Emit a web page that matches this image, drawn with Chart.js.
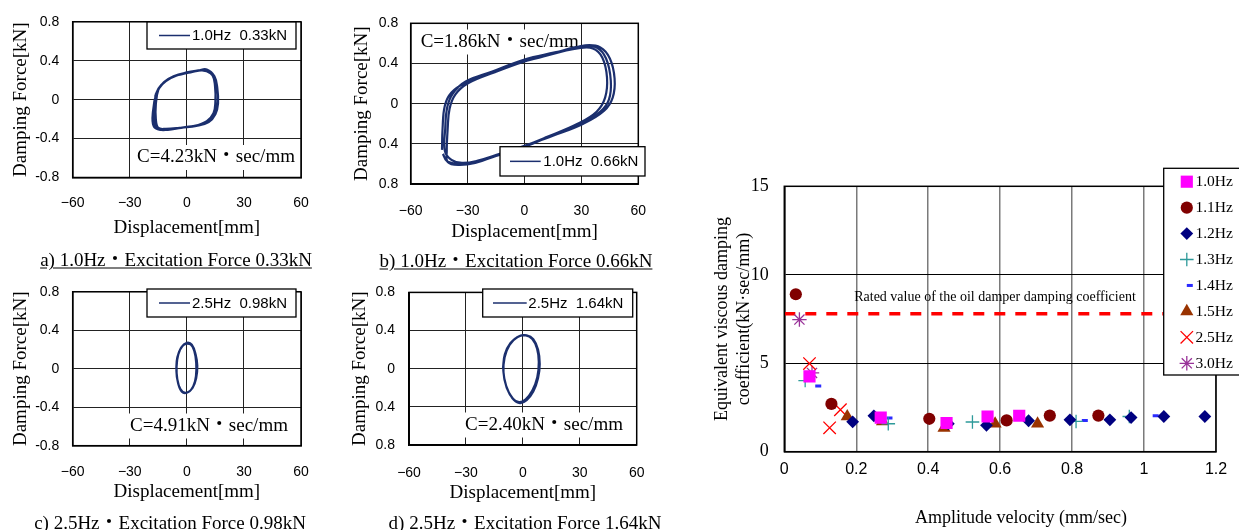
<!DOCTYPE html>
<html>
<head>
<meta charset="utf-8">
<script src="https://cdn.jsdelivr.net/npm/chart.js@4.4.1/dist/chart.umd.min.js"></script>
<style>
  html, body { margin: 0; padding: 0; background: #fff; }
  #page { position: relative; width: 1239px; height: 530px; overflow: hidden; background: #fff; }
  canvas { position: absolute; }
  .cap { position: absolute; white-space: nowrap; transform: translate(-50%, -50%); color: #000;
         font-family: "Liberation Serif", "Noto Sans CJK JP", serif; font-size: 19px; }
  .ul { text-decoration: underline; text-underline-offset: 2px; }
</style>
</head>
<body>
<div id="page">
  <canvas id="ca" width="330" height="245" style="left:0px;top:0px"></canvas>
  <canvas id="cb" width="340" height="245" style="left:330px;top:0px"></canvas>
  <canvas id="cc" width="330" height="245" style="left:0px;top:270px"></canvas>
  <canvas id="cd" width="340" height="245" style="left:330px;top:270px"></canvas>
  <canvas id="cs" width="549" height="370" style="left:690px;top:160px"></canvas>
  <div class="cap ul" style="left:176px;top:257px">a) 1.0Hz・Excitation Force 0.33kN</div>
  <div class="cap ul" style="left:516px;top:258px">b) 1.0Hz・Excitation Force 0.66kN</div>
  <div class="cap" style="left:170px;top:520px">c) 2.5Hz・Excitation Force 0.98kN</div>
  <div class="cap" style="left:525px;top:520px">d) 2.5Hz・Excitation Force 1.64kN</div>
  <div class="cap" style="left:1021px;top:517px;font-size:18px">Amplitude velocity (mm/sec)</div>
</div>
<script>
// hysteresis loops, [displacement mm, force kN]
const loopA = [
  [-16.5, 0.05], [-14.5, 0.12], [-11, 0.19], [-5, 0.25], [2, 0.28], [8, 0.30], [12.5, 0.27], [15, 0.20],
  [16.3, 0.05], [15.6, -0.10], [13, -0.19], [8, -0.25], [0, -0.28], [-8, -0.30], [-14, -0.31], [-17.5, -0.27],
  [-17.8, -0.12], [-16, 0.07], [-13.5, 0.15], [-9, 0.22], [-3, 0.26], [4, 0.29], [9.5, 0.30], [13.5, 0.25],
  [14.8, 0.14], [15, -0.02], [14, -0.14], [10.5, -0.22], [4, -0.27], [-4, -0.29], [-11, -0.30], [-15, -0.29],
  [-16.3, -0.20], [-16.3, -0.05], [-15, 0.10], [-12, 0.18], [-7, 0.24], [0, 0.28], [6, 0.30], [10.5, 0.31],
  [14.5, 0.24], [16, 0.12], [16.4, -0.04], [15, -0.15], [11.5, -0.23], [5, -0.27], [-3, -0.29], [-10, -0.31],
  [-15.5, -0.30], [-17, -0.22], [-16.8, -0.05], [-16.5, 0.05]
];
const loopB = [
  [-43.5, -0.46], [-43.2, -0.25], [-42, -0.02], [-38.5, 0.11], [-31, 0.21], [-18, 0.31], [-4, 0.40],
  [10, 0.47], [22, 0.53], [32, 0.58], [40, 0.56], [45, 0.45], [47.5, 0.25], [46.5, 0.06], [42, -0.07],
  [31, -0.20], [15, -0.32], [0, -0.42], [-14, -0.51], [-26, -0.59], [-35, -0.61], [-40.5, -0.58],
  [-41, -0.48], [-40.5, -0.25], [-39.5, -0.05], [-36.5, 0.09], [-30, 0.20], [-16, 0.31], [0, 0.42],
  [15, 0.50], [28, 0.55], [36, 0.55], [41, 0.46], [43.5, 0.26], [42.5, 0.06], [38, -0.08], [28, -0.20],
  [12, -0.33], [0, -0.42], [-13, -0.50], [-25, -0.57], [-33, -0.59], [-38.5, -0.56],
  [-42, -0.47], [-41.8, -0.25], [-40.8, -0.04], [-37.8, 0.10], [-31, 0.22], [-17, 0.32], [0, 0.44],
  [16, 0.51], [30, 0.57], [38, 0.56], [43, 0.45], [45.5, 0.23], [44.5, 0.04], [40, -0.08], [30, -0.20],
  [14, -0.32], [0, -0.43], [-15, -0.52], [-27, -0.59], [-35.5, -0.60], [-41, -0.57], [-43, -0.50]
];
const loopC = [
  [-5.6, -0.01], [-5.0, 0.12], [-3.0, 0.22], [0, 0.27], [2.6, 0.25], [4.6, 0.15], [5.5, 0.03], [4.9, -0.10],
  [3.0, -0.20], [0, -0.25], [-2.6, -0.24], [-4.6, -0.15], [-5.5, -0.02], [-4.8, 0.13], [-2.6, 0.23],
  [0.5, 0.26], [3.0, 0.23], [4.6, 0.12], [5.0, -0.01], [4.3, -0.13], [2.2, -0.22], [-0.8, -0.25],
  [-3.4, -0.21], [-5.0, -0.11], [-5.4, 0.02], [-4.5, 0.15], [-2.2, 0.24], [1.0, 0.27]
];
const loopD = [
  [-10.5, 0.0], [-9.5, 0.15], [-6.5, 0.27], [-2, 0.34], [2, 0.35], [5.5, 0.31], [8, 0.20], [8.9, 0.05],
  [8, -0.10], [5.5, -0.24], [2, -0.33], [-1.5, -0.36], [-5, -0.32], [-8.5, -0.20], [-10.2, -0.04],
  [-9.6, 0.12], [-7, 0.25], [-3, 0.33], [1.5, 0.35], [5, 0.31], [7.5, 0.21], [8.4, 0.07], [7.6, -0.09],
  [5, -0.23], [1.5, -0.32], [-2, -0.35], [-5.5, -0.31], [-8.8, -0.18], [-10.3, -0.02], [-9.8, 0.12]
];
const loopLabels = ['1.0Hz  0.33kN', '1.0Hz  0.66kN', '2.5Hz  0.98kN', '2.5Hz  1.64kN'];
const cNotes = ['C=4.23kN・sec/mm', 'C=1.86kN・sec/mm', 'C=4.91kN・sec/mm', 'C=2.40kN・sec/mm'];
const dispTicks = [-60, -30, 0, 30, 60];
const forceTicks = [-0.8, -0.4, 0, 0.4, 0.8];

// equivalent damping coefficient, [amplitude velocity, coefficient]
const freqLabels = ['1.0Hz', '1.1Hz', '1.2Hz', '1.3Hz', '1.4Hz', '1.5Hz', '2.5Hz', '3.0Hz'];
const hz10 = [[0.070, 4.26], [0.268, 1.93], [0.451, 1.62], [0.565, 1.99], [0.653, 2.03]];
const hz11 = [[0.032, 8.90], [0.131, 2.70], [0.403, 1.86], [0.618, 1.77], [0.738, 2.04], [0.873, 2.04]];
const hz12 = [[0.190, 1.69], [0.249, 2.03], [0.456, 1.58], [0.562, 1.49], [0.679, 1.75], [0.794, 1.80],
              [0.905, 1.80], [0.964, 1.93], [1.055, 1.99], [1.169, 1.99]];
const hz13 = [[0.058, 4.02], [0.289, 1.58], [0.523, 1.68], [0.811, 1.71], [0.959, 1.99]];
const hz14 = [[0.086, 3.71], [0.284, 1.90], [0.555, 1.80], [0.827, 1.77], [1.024, 2.03]];
const hz15 = [[0.175, 1.99], [0.273, 1.71], [0.444, 1.34], [0.586, 1.58], [0.704, 1.58]];
const hz25 = [[0.070, 4.98], [0.156, 2.37], [0.126, 1.35]];
const hz30 = [[0.042, 7.47], [0.077, 4.45]];
const ratedValue = 7.8;
const velocityTicks = [0, 0.2, 0.4, 0.6, 0.8, 1, 1.2];
const coefTicks = [0, 5, 10, 15];

const serif = '"Liberation Serif", "Noto Sans CJK JP", serif';
const sans = '"Liberation Sans", Arial, sans-serif';
const loopColor = '#1b2f6e';

const xy = arr => arr.map(p => ({ x: p[0], y: p[1] }));

// frame, text notes and boxed legends
const decor = {
  id: 'decor',
  beforeDatasetsDraw(chart, args, opts) {
    const ctx = chart.ctx;
    (opts.notes || []).forEach(n => {
      ctx.save();
      ctx.font = n.font;
      ctx.textBaseline = 'middle';
      ctx.textAlign = n.align || 'left';
      const w = ctx.measureText(n.text).width;
      if (n.bg) {
        ctx.fillStyle = '#fff';
        ctx.fillRect(n.x - 1, n.y - n.h / 2, w + 3, n.h);
      }
      ctx.fillStyle = '#000';
      ctx.fillText(n.text, n.x, n.y);
      ctx.restore();
    });
  },
  afterDraw(chart, args, opts) {
    const ctx = chart.ctx;
    const a = chart.chartArea;
    ctx.save();
    ctx.strokeStyle = '#000';
    ctx.lineWidth = 1.5;
    ctx.strokeRect(a.left, a.top, a.right - a.left, a.bottom - a.top);
    const b = opts.box;
    if (b) {
      ctx.fillStyle = '#fff';
      ctx.fillRect(b.x, b.y, b.w, b.h);
      ctx.strokeStyle = '#000';
      ctx.lineWidth = 1.3;
      ctx.strokeRect(b.x, b.y, b.w, b.h);
      if (b.lx1 !== undefined) {
        const ds = chart.data.datasets[0];
        const cy = b.y + b.h / 2;
        ctx.strokeStyle = ds.borderColor;
        ctx.lineWidth = 1.5;
        ctx.beginPath();
        ctx.moveTo(b.lx1, cy);
        ctx.lineTo(b.lx2, cy);
        ctx.stroke();
        ctx.fillStyle = '#000';
        ctx.font = '15px ' + sans;
        ctx.textBaseline = 'middle';
        ctx.fillText(ds.label, b.tx, cy + 0.5);
      } else {
        chart.data.datasets.forEach((ds, i) => {
          if (!ds.inLegend) return;
          const y = b.y0 + i * b.dy;
          ctx.fillStyle = ds.backgroundColor;
          ctx.strokeStyle = ds.borderColor;
          ctx.lineWidth = ds.borderWidth;
          Chart.helpers.drawPoint(ctx, {
            pointStyle: ds.pointStyle, radius: ds.pointRadius, rotation: 0, borderWidth: ds.borderWidth
          }, b.mx, y);
          ctx.fillStyle = '#000';
          ctx.font = '15.5px ' + serif;
          ctx.textBaseline = 'middle';
          ctx.textAlign = 'left';
          ctx.fillText(ds.label, b.tx, y + 0.5);
        });
      }
    }
    ctx.restore();
  }
};

function makeLoop(id, pts, label, note, L, absY) {
  new Chart(document.getElementById(id), {
    type: 'scatter',
    data: {
      datasets: [{
        label: label, data: xy(pts), showLine: true, tension: 0.4,
        borderColor: loopColor, borderWidth: 2.2, pointRadius: 0
      }]
    },
    options: {
      responsive: false, animation: false, devicePixelRatio: 1,
      layout: { padding: { left: 0, top: L.top, right: L.right, bottom: 0 } },
      plugins: {
        legend: { display: false }, tooltip: { enabled: false },
        decor: {
          notes: [{ text: note, x: L.nx, y: L.ny, h: 25, bg: true, font: '19px ' + serif }],
          box: L.box
        }
      },
      scales: {
        x: {
          type: 'linear', min: -60, max: 60,
          afterBuildTicks: s => { s.ticks = dispTicks.map(v => ({ value: v })); },
          afterFit: s => { s.height = L.xh; },
          grid: { color: '#222', lineWidth: 1, drawTicks: false },
          border: { color: '#000', width: 1.5 },
          ticks: {
            padding: L.xtp, color: '#000', maxRotation: 0, autoSkip: false,
            font: { family: sans, size: 14 },
            callback: v => (v < 0 ? '\u2212' + Math.abs(v) : String(v))
          },
          title: {
            display: true, text: 'Displacement[mm]', color: '#000',
            font: { family: serif, size: 19 }, padding: { top: 0, bottom: L.xtb }
          }
        },
        y: {
          type: 'linear', min: -0.8, max: 0.8,
          afterBuildTicks: s => { s.ticks = forceTicks.map(v => ({ value: v })); },
          afterFit: s => { s.width = L.yw; },
          grid: { color: '#222', lineWidth: 1, drawTicks: false },
          border: { color: '#000', width: 1.5 },
          ticks: {
            padding: L.ytp, color: '#000', autoSkip: false,
            font: { family: sans, size: 14 },
            callback: v => String(absY ? Math.abs(v) : v)
          },
          title: {
            display: true, text: 'Damping Force[kN]', color: '#000',
            font: { family: serif, size: 19 }, padding: { top: L.ytt, bottom: 0 }
          }
        }
      }
    },
    plugins: [decor]
  });
}

makeLoop('ca', loopA, loopLabels[0], cNotes[0], {
  top: 16.7, right: 29, xh: 67.5, xtp: 17, xtb: 5.6, yw: 72.7, ytp: 13.4, ytt: 9.6,
  nx: 137, ny: 157.5, box: { x: 147, y: 22, w: 149, h: 27, lx1: 159, lx2: 190, tx: 192 }
}, false);
makeLoop('cb', loopB, loopLabels[1], cNotes[1], {
  top: 23.3, right: 31.7, xh: 61, xtp: 18.3, xtb: 1.9, yw: 80.7, ytp: 12.4, ytt: 20.6,
  nx: 90.7, ny: 42, box: { x: 170, y: 146.7, w: 145, h: 29.3, lx1: 180, lx2: 210.7, tx: 213.3 }
}, true);
makeLoop('cc', loopC, loopLabels[2], cNotes[2], {
  top: 15, right: 29, xh: 69.3, xtp: 17.6, xtb: 11.9, yw: 72.7, ytp: 13.4, ytt: 9.3,
  nx: 130, ny: 156, box: { x: 147, y: 19, w: 149, h: 28, lx1: 159, lx2: 190, tx: 192 }
}, false);
makeLoop('cd', loopD, loopLabels[3], cNotes[3], {
  top: 15, right: 33.3, xh: 70, xtp: 19.3, xtb: 10.9, yw: 79, ytp: 14, ytt: 18.6,
  nx: 135, ny: 155, box: { x: 152.7, y: 19, w: 150, h: 28, lx1: 163, lx2: 196.7, tx: 198.3 }
}, true);

// scatter of damping coefficient
const seriesData = [hz10, hz11, hz12, hz13, hz14, hz15, hz25, hz30];
const styles = [
  { pointStyle: 'rect', color: '#ff00ff', r: 8.6, bw: 0 },
  { pointStyle: 'circle', color: '#800000', r: 6.1, bw: 0 },
  { pointStyle: 'rectRot', color: '#000080', r: 6.4, bw: 0 },
  { pointStyle: 'cross', color: '#2e9a9a', r: 6.8, bw: 1.3 },
  { pointStyle: 'dash', color: '#2b2bff', r: 6, bw: 3 },
  { pointStyle: 'triangle', color: '#993300', r: 7.6, bw: 0 },
  { pointStyle: 'crossRot', color: '#ff0000', r: 8.8, bw: 1.3 },
  { pointStyle: 'star', color: '#993399', r: 7.2, bw: 1.3 }
];
const scatterSets = seriesData.map((d, i) => ({
  label: freqLabels[i], data: xy(d), inLegend: true, order: 0,
  pointStyle: styles[i].pointStyle, pointRadius: styles[i].r, pointHoverRadius: styles[i].r,
  backgroundColor: styles[i].color, borderColor: styles[i].color, borderWidth: styles[i].bw
}));
scatterSets.push({
  type: 'line', label: 'rated', data: [{ x: 0, y: ratedValue }, { x: 1.2, y: ratedValue }],
  borderColor: '#ff0000', borderWidth: 3.5, borderDash: [11, 10], pointRadius: 0, order: 1
});

new Chart(document.getElementById('cs'), {
  type: 'scatter',
  data: { datasets: scatterSets },
  options: {
    responsive: false, animation: false, devicePixelRatio: 1,
    layout: { padding: { left: 0, top: 20, right: 23, bottom: 0 } },
    plugins: {
      legend: { display: false }, tooltip: { enabled: false },
      decor: {
        notes: [{ text: 'Rated value of the oil damper damping coefficient', x: 305, y: 137.7,
                  align: 'center', font: '14px ' + serif }],
        box: { x: 473.7, y: 8.3, w: 80, h: 206.7, mx: 496.8, tx: 505.4, y0: 21.7, dy: 25.94 }
      }
    },
    scales: {
      x: {
        type: 'linear', min: 0, max: 1.2,
        afterBuildTicks: s => { s.ticks = velocityTicks.map(v => ({ value: v })); },
        afterFit: s => { s.height = 78.3; },
        grid: { color: '#7a7a7a', lineWidth: 1.5, drawTicks: false },
        border: { color: '#000', width: 1.5 },
        ticks: {
          padding: 8.7, color: '#000', maxRotation: 0, autoSkip: false,
          font: { family: sans, size: 16 }, callback: v => String(v)
        }
      },
      y: {
        type: 'linear', min: 0, max: 15,
        afterBuildTicks: s => { s.ticks = coefTicks.map(v => ({ value: v })); },
        afterFit: s => { s.width = 94.3; },
        grid: { color: '#000', lineWidth: 1, drawTicks: false },
        border: { color: '#000', width: 1.5 },
        ticks: { padding: 15.5, color: '#000', font: { family: serif, size: 18 } },
        title: {
          display: true, text: ['Equivalent viscous damping', 'coefficient(kN\u00b7sec/mm)'], color: '#000',
          font: { family: serif, size: 18 }, padding: { top: 21.6, bottom: 0 }
        }
      }
    }
  },
  plugins: [decor]
});
</script>
</body>
</html>
